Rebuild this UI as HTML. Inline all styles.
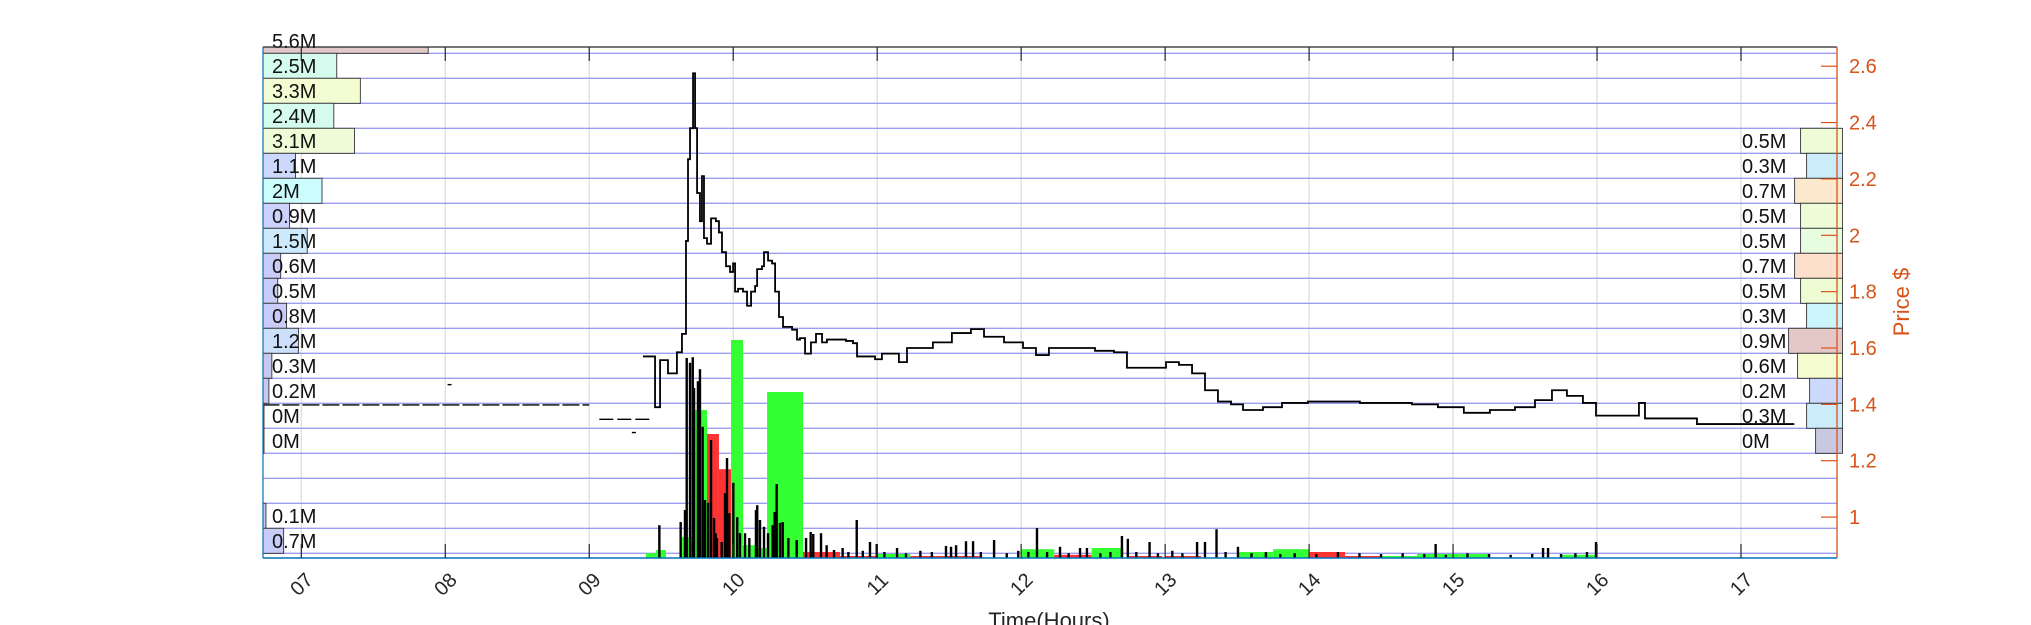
<!DOCTYPE html>
<html><head><meta charset="utf-8"><style>
html,body{margin:0;padding:0;background:#fff;}
svg{display:block;font-family:"Liberation Sans",sans-serif;}
</style></head><body>
<svg id="chart" width="2031" height="625" viewBox="0 0 2031 625" xmlns="http://www.w3.org/2000/svg">
<defs><clipPath id="plotclip"><rect x="263" y="47" width="1580" height="511"/></clipPath></defs>
<g id="grid"></g>
<g id="vol" clip-path="url(#plotclip)"></g>
<g id="price" clip-path="url(#plotclip)"></g>
<g id="profile" clip-path="url(#plotclip)"></g>
<g id="proflabels"></g>
<g id="axes"></g>
</svg>
<script>
// ---- data ----
const hourTicks = [7,8,9,10,11,12,13,14,15,16,17];
const hourTickLabels = ["07","08","09","10","11","12","13","14","15","16","17"];
const priceTicks = [1.0,1.2,1.4,1.6,1.8,2.0,2.2,2.4,2.6];
const priceTickLabels = ["1","1.2","1.4","1.6","1.8","2","2.2","2.4","2.6"];

const preTimes = [6.73, 9.0];
const prePrice = 1.398;
const pre2Times = [9.07, 9.44];
const pre2Price = 1.347;
const dotTimes = [8.03, 9.31];
const dotPrices = [1.47, 1.30];

const priceTimes = [9.373,9.457,9.492,9.547,9.575,9.609,9.644,9.672,9.686,9.700,9.721,9.735,9.749,9.769,9.783,9.797,9.818,9.846,9.880,9.901,9.922,9.950,9.978,9.999,10.013,10.034,10.068,10.096,10.124,10.152,10.166,10.200,10.214,10.242,10.270,10.291,10.318,10.346,10.381,10.409,10.443,10.464,10.499,10.540,10.575,10.617,10.651,10.693,10.742,10.783,10.832,10.860,10.915,10.985,11.033,11.089,11.151,11.207,11.387,11.519,11.651,11.742,11.881,12.013,12.103,12.193,12.374,12.513,12.645,12.735,12.867,13.006,13.096,13.187,13.277,13.367,13.458,13.541,13.680,13.812,13.992,14.173,14.353,14.534,14.714,14.895,15.075,15.256,15.430,15.569,15.687,15.791,15.902,15.993,16.153,16.291,16.333,16.604,16.694,16.965,17.236,17.37];
const priceValues = [1.57,1.39,1.557,1.51,1.51,1.585,1.65,1.98,2.27,2.38,2.575,2.38,2.15,2.05,2.21,1.99,1.97,2.06,2.05,2.01,1.94,1.89,1.87,1.90,1.80,1.81,1.80,1.75,1.80,1.82,1.88,1.89,1.94,1.91,1.90,1.80,1.71,1.675,1.675,1.665,1.63,1.635,1.58,1.62,1.65,1.62,1.63,1.63,1.63,1.625,1.617,1.57,1.57,1.56,1.58,1.58,1.55,1.60,1.62,1.653,1.667,1.64,1.62,1.60,1.575,1.60,1.60,1.59,1.585,1.53,1.53,1.55,1.54,1.51,1.45,1.41,1.40,1.38,1.39,1.405,1.41,1.41,1.405,1.405,1.40,1.39,1.37,1.38,1.39,1.415,1.45,1.43,1.405,1.36,1.36,1.405,1.35,1.35,1.33,1.33,1.33,1.33];

const bucketStart = [9.394,9.464,9.642,9.735,9.818,9.901,9.985,10.068,10.152,10.235,10.485,10.742,11.0,11.23,12.0,12.23,12.49,12.75,13.0,13.5,13.75,14.0,14.25,14.5,14.75,15.0,15.75];
const bucketEnd   = [9.464,9.533,9.735,9.818,9.901,9.985,10.068,10.152,10.235,10.485,10.742,11.0,11.23,11.73,12.23,12.49,12.71,12.98,13.25,13.75,14.0,14.25,14.5,14.75,15.0,15.25,16.0];
const bucketVol   = [12,20,52,370,310,222,545,32,25,415,15,5,10,5,22,8,25,5,5,15,22,15,5,5,10,10,8];
const bucketUp    = [1,1,1,1,0,0,1,1,1,1,0,0,1,0,1,0,1,0,0,1,1,0,0,1,1,1,1];

const spikeTimes = [9.487,9.635,9.665,9.677,9.700,9.719,9.728,9.755,9.769,9.788,9.804,9.825,9.846,9.867,9.878,9.887,9.920,9.943,9.957,9.973,10.001,10.028,10.047,10.082,10.112,10.158,10.167,10.186,10.214,10.242,10.274,10.288,10.302,10.325,10.344,10.383,10.441,10.506,10.538,10.556,10.610,10.649,10.70,10.76,10.80,10.858,10.90,10.950,10.997,11.05,11.138,11.20,11.30,11.38,11.478,11.513,11.548,11.617,11.666,11.72,11.812,11.90,11.98,12.05,12.110,12.18,12.270,12.33,12.409,12.457,12.55,12.62,12.700,12.741,12.80,12.892,12.95,13.05,13.12,13.222,13.277,13.357,13.42,13.506,13.60,13.70,13.80,13.90,14.05,14.20,14.35,14.50,14.65,14.80,14.879,14.95,15.10,15.25,15.40,15.55,15.625,15.660,15.75,15.85,15.93,15.993];
const spikeVol = [82,90,120,500,488,502,425,442,472,328,145,138,295,100,62,50,40,162,250,112,188,102,62,62,50,120,132,95,78,62,82,115,185,88,90,50,45,50,65,60,62,32,20,25,15,95,18,40,35,15,25,12,18,15,30,28,32,42,42,15,45,12,18,15,75,15,28,12,25,25,12,15,55,48,15,40,12,18,12,40,40,72,15,28,12,15,10,12,10,15,12,10,12,10,35,8,12,10,8,10,25,25,10,12,15,40];

const leftProfileVals = [5.6,2.5,3.3,2.4,3.1,1.1,2.0,0.9,1.5,0.6,0.5,0.8,1.2,0.3,0.2,0,0,null,null,0.1,0.7];
const leftProfileLabels = ["5.6M","2.5M","3.3M","2.4M","3.1M","1.1M","2M","0.9M","1.5M","0.6M","0.5M","0.8M","1.2M","0.3M","0.2M","0M","0M","","","0.1M","0.7M"];
const leftProfileColors = ["#e2c8c8","#d4fbee","#f4fcd2","#d4fbee","#effcd8","#ccd8fc","#ccfcfc","#ccd2fc","#cceafc","#c8ccf6","#c8ccf6","#c8ccf6","#cce0fc","#c8c8ec","#c8c8ec","#c8c8ec","#c8c8ec","#fff","#fff","#c8c8ec","#c8ccf6"];

const rightProfileVals = [0.5,0.3,0.7,0.5,0.5,0.7,0.5,0.3,0.9,0.6,0.2,0.3,0];
const rightProfileLabels = ["0.5M","0.3M","0.7M","0.5M","0.5M","0.7M","0.5M","0.3M","0.9M","0.6M","0.2M","0.3M","0M"];
const rightProfileColors = ["#eefcd8","#ccecfc","#fce8cc","#eefcd8","#e8fce0","#fce0cc","#eefcd4","#ccf4fc","#e4c8c8","#f4fcd0","#ccd8fc","#ccecfc","#c8c8e0"];
const rightProfileFirstBin = 3;

// ---- scales ----
const X0 = 263, X1 = 1837, Y0 = 47, Y1 = 558;
function xs(h){ return 301.3 + (h - 7) * 143.97; }
function ys(p){ return 66.2 + (2.6 - p) * 281.8; }
function vs(v){ return Y1 - v * 0.4; }
function binTop(i){ return 28.3 + 25 * i; }
const NS = "http://www.w3.org/2000/svg";
function mk(tag, attrs, parent){ const e = document.createElementNS(NS, tag); for (const k in attrs) e.setAttribute(k, attrs[k]); parent.appendChild(e); return e; }

const grid = document.getElementById('grid');
const vol = document.getElementById('vol');
const price = document.getElementById('price');
const prof = document.getElementById('profile');
const plab = document.getElementById('proflabels');
const axes = document.getElementById('axes');

hourTicks.forEach(h => {
  const l = mk('line', {x1: xs(h), x2: xs(h), y1: Y0, y2: Y1, stroke: '#dcdcdc', 'stroke-width': 1.2}, grid);
  
  
});
for (let k = 0; k <= 20; k++) {
  const y = 53.3 + 25 * k;
  const l = mk('line', {x1: X0, x2: X1, y1: y, y2: y, stroke: '#9c9cf2', 'stroke-width': 1.4}, grid);
  
  
}

bucketStart.forEach((s, i) => {
  const x1 = xs(s), x2 = xs(bucketEnd[i]);
  const r = mk('rect', {x: x1, y: vs(bucketVol[i]), width: x2 - x1, height: Y1 - vs(bucketVol[i]), fill: bucketUp[i] ? '#33ff33' : '#ff3333'}, vol);
  
  
});
spikeTimes.forEach((t, i) => {
  const r = mk('rect', {x: xs(t) - 1.2, y: vs(spikeVol[i]), width: 2.4, height: Y1 - vs(spikeVol[i]), fill: '#000'}, vol);
  
  
});

let pl = mk('line', {x1: xs(preTimes[0]), x2: xs(preTimes[1]), y1: ys(prePrice), y2: ys(prePrice), stroke: '#000', 'stroke-width': 1.3, 'stroke-dasharray': '17 3'}, price);


pl = mk('line', {x1: xs(pre2Times[0]), x2: xs(pre2Times[1]), y1: ys(pre2Price), y2: ys(pre2Price), stroke: '#000', 'stroke-width': 1.3, 'stroke-dasharray': '14 4'}, price);


dotTimes.forEach((t, i) => {
  const d = mk('rect', {x: xs(t) - 2, y: ys(dotPrices[i]) - 0.7, width: 4, height: 1.4, fill: '#000'}, price);
  
  
});
let dstr = 'M' + xs(priceTimes[0]) + ' ' + ys(priceValues[0]);
for (let i = 1; i < priceTimes.length; i++) {
  dstr += ' H' + xs(priceTimes[i]) + ' V' + ys(priceValues[i]);
}
const pp = mk('path', {d: dstr, fill: 'none', stroke: '#000', 'stroke-width': 1.8}, price);



leftProfileVals.forEach((v, i) => {
  const top = binTop(i);
  if (v !== null) {
    const r = mk('rect', {x: X0, y: top, width: Math.max(1, v * 29.5), height: 25, fill: leftProfileColors[i], stroke: '#333', 'stroke-width': 0.9}, prof);
    
    
  }
  if (leftProfileLabels[i]) {
    const t = mk('text', {x: 272, y: top + 19.5, 'font-size': 20, fill: '#111'}, plab);
    t.textContent = leftProfileLabels[i];
    
    
  }
});
rightProfileVals.forEach((v, j) => {
  const top = binTop(rightProfileFirstBin + j + 1);
  const w = 27 + v * 30;
  const r = mk('rect', {x: 1842.6 - w, y: top, width: w, height: 25, fill: rightProfileColors[j], stroke: '#333', 'stroke-width': 0.9}, prof);
  
  
  const t = mk('text', {x: 1742, y: top + 19.5, 'font-size': 20, fill: '#111'}, plab);
  t.textContent = rightProfileLabels[j];
  
  
});

let a = mk('line', {x1: X0, x2: X1, y1: Y0, y2: Y0, stroke: '#262626', 'stroke-width': 1.3}, axes);


a = mk('line', {x1: X0, x2: X1, y1: Y1, y2: Y1, stroke: '#0072bd', 'stroke-width': 1.5}, axes);


a = mk('line', {x1: X0, x2: X0, y1: Y0, y2: Y1, stroke: '#0072bd', 'stroke-width': 1.2}, axes);


a = mk('line', {x1: X1, x2: X1, y1: Y0, y2: Y1, stroke: '#d95319', 'stroke-width': 1.3}, axes);


hourTicks.forEach((h, i) => {
  const x = xs(h);
  let tk = mk('line', {x1: x, x2: x, y1: Y1, y2: Y1 - 14, stroke: '#262626', 'stroke-width': 1.2}, axes);
  
  
  tk = mk('line', {x1: x, x2: x, y1: Y0, y2: Y0 + 14, stroke: '#262626', 'stroke-width': 1.2}, axes);
  
  
  const t = mk('text', {x: x, y: 591, 'font-size': 20, fill: '#262626', 'text-anchor': 'middle', transform: 'rotate(-45 ' + x + ' 584)'}, axes);
  t.textContent = hourTickLabels[i];
  
  
});
priceTicks.forEach((p, i) => {
  const y = ys(p);
  const tk = mk('line', {x1: X1 - 16, x2: X1, y1: y, y2: y, stroke: '#d95319', 'stroke-width': 1.2}, axes);
  
  
  const t = mk('text', {x: 1849, y: y + 7, 'font-size': 20, fill: '#d95319'}, axes);
  t.textContent = priceTickLabels[i];
  
  
});
let tt = mk('text', {x: 1049, y: 628, 'font-size': 22, fill: '#262626', 'text-anchor': 'middle'}, axes);
tt.textContent = 'Time(Hours)';


tt = mk('text', {x: 1909, y: 302, 'font-size': 22, fill: '#d95319', 'text-anchor': 'middle', transform: 'rotate(-90 1909 302)'}, axes);
tt.textContent = 'Price $';


</script>
</body></html>
